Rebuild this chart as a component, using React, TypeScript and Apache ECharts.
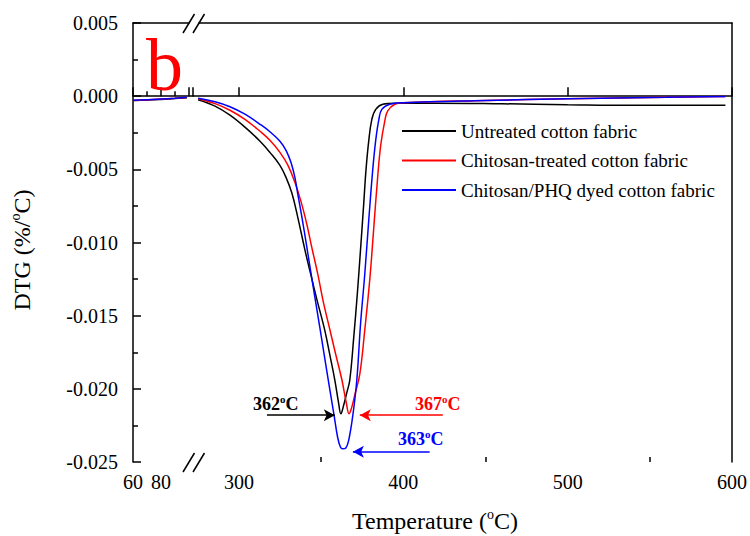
import React, { useEffect, useRef } from 'react';
import * as echarts from 'echarts';

const seriesNames = [
  'Untreated cotton fabric',
  'Chitosan-treated cotton fabric',
  'Chitosan/PHQ dyed cotton fabric',
];
const seriesColors = ['#000000', '#ff0000', '#0000ff'];

// left (low temperature) segment
const leftTemps = [60, 70, 80, 90, 98.5];
const leftBlack = [-0.0003, -0.00027, -0.00022, -0.00016, -0.0001];
const leftRed = [-0.00029, -0.00026, -0.00021, -0.00015, -0.00009];
const leftBlue = [-0.00028, -0.00025, -0.0002, -0.00014, -0.00008];

// right (high temperature) segment
const blackT = [275.1, 285.4, 294.5, 303.6, 312.8, 318.8, 324.9, 328.6, 332.2, 335.8, 340.1, 343.7, 347.4, 352.2, 355.3, 358.3, 360.5, 362, 363.5, 365.5, 367.4, 369.8, 372, 374, 375.8, 377.3, 379, 380.8, 383.2, 387.5, 395, 420, 460, 500, 540, 596];
const blackV = [-0.00024, -0.00068, -0.0013, -0.00212, -0.00308, -0.00384, -0.00473, -0.00555, -0.00664, -0.0083, -0.0105, -0.0122, -0.0139, -0.016, -0.0177, -0.0194, -0.0209, -0.0217, -0.0212, -0.0203, -0.0194, -0.0165, -0.0135, -0.0104, -0.0075, -0.005, -0.003, -0.0016, -0.0009, -0.00055, -0.00048, -0.00048, -0.00052, -0.00058, -0.00062, -0.00062];

const redT = [275.1, 285.4, 294.5, 303.6, 312.8, 318.8, 324.9, 329.8, 334, 337.7, 341.3, 344.3, 348, 351, 355.3, 358.9, 362.6, 365.2, 367, 368.5, 370.5, 373.5, 376.5, 379.6, 382, 384.4, 386.3, 388.7, 390.5, 394.8, 400, 450, 500, 560, 596];
const redV = [-0.00017, -0.00051, -0.00096, -0.00158, -0.0024, -0.00301, -0.00384, -0.00473, -0.00589, -0.00719, -0.00877, -0.01034, -0.01219, -0.0139, -0.01596, -0.01767, -0.01938, -0.0209, -0.0217, -0.0213, -0.0204, -0.019, -0.016, -0.0125, -0.009, -0.0055, -0.0033, -0.0017, -0.001, -0.00055, -0.00045, -0.0003, -0.00018, -0.00008, -0.00003];

const blueT = [275.1, 285.4, 294.5, 303.6, 312.8, 318.8, 324.9, 328.6, 331.6, 334, 335.8, 338.3, 341.3, 346.2, 349.2, 354.1, 357.7, 360.1, 361.7, 363, 365, 366.8, 369.3, 371.7, 374, 376.5, 379, 381.4, 383.2, 385.1, 386.9, 391.7, 400, 450, 500, 560, 596];
const blueV = [-0.00014, -0.00038, -0.00072, -0.00123, -0.00192, -0.00243, -0.00308, -0.0037, -0.00452, -0.00555, -0.00671, -0.00829, -0.01034, -0.01377, -0.01582, -0.01925, -0.02171, -0.02336, -0.02397, -0.0241, -0.02404, -0.02349, -0.02178, -0.01938, -0.0155, -0.0122, -0.0084, -0.005, -0.003, -0.0016, -0.0009, -0.00055, -0.00045, -0.0003, -0.00018, -0.00008, -0.00002];

// peak annotations
const peakLabels = ['362', '367', '363'];
const arrowFrom = [317, 424, 416];
const arrowTo = [358.3, 373.5, 369.3];
const arrowV = [-0.0218, -0.0218, -0.0243];

const xTicksMajor = [300, 400, 500, 600];
const xTicksMinor = [350, 450, 550];

const FONT = 'Liberation Serif';

const zip = (a: number[], b: number[]) => a.map((v, i) => [v, b[i]]);

export default function App() {
  const ref = useRef<HTMLDivElement>(null);
  useEffect(() => {
    if (!ref.current) return;
    const chart = echarts.init(ref.current, null, { renderer: 'svg' });
    const leftData = [leftBlack, leftRed, leftBlue];
    const rightData = [zip(blackT, blackV), zip(redT, redV), zip(blueT, blueV)];

    const lineBase = {
      type: 'line' as const,
      showSymbol: false,
      symbol: 'none',
      smooth: 0.4,
      silent: true,
    };

    const series: any[] = [];
    seriesNames.forEach((name, i) => {
      series.push({
        ...lineBase,
        name,
        xAxisIndex: 0,
        yAxisIndex: 0,
        data: zip(leftTemps, leftData[i]),
        lineStyle: { color: seriesColors[i], width: 1.5 },
        itemStyle: { color: seriesColors[i] },
      });
    });
    seriesNames.forEach((name, i) => {
      series.push({
        ...lineBase,
        name,
        xAxisIndex: 1,
        yAxisIndex: 1,
        data: rightData[i],
        lineStyle: { color: seriesColors[i], width: 1.5 },
        itemStyle: { color: seriesColors[i] },
        markLine: {
          silent: true,
          symbol: ['none', 'arrow'],
          symbolSize: [9, 11],
          label: { show: false },
          lineStyle: { color: seriesColors[i], width: 1.5, type: 'solid' },
          data: [[{ coord: [arrowFrom[i], arrowV[i]] }, { coord: [arrowTo[i], arrowV[i]] }]],
        },
      });
    });

    const axisLabelStyle = { color: '#000', fontFamily: FONT, fontSize: 20 };
    const lineStyle = { color: '#000', width: 1.5 };

    const supText = (num: string, color: string) => ({
      text: `{a|${num}}{b|o}{a|C}`,
      fill: color,
      rich: {
        a: { fontSize: 18, fontWeight: 'bold', fontFamily: FONT, fill: color, lineHeight: 21 },
        b: { fontSize: 11, fontWeight: 'bold', fontFamily: FONT, fill: color, lineHeight: 12, verticalAlign: 'top' },
      },
    });

    const breakMarks = (y: number) => [
      { type: 'rect', z: 100, shape: { x: 189.5, y: y - 3, width: 9, height: 6 }, style: { fill: '#fff' } },
      { type: 'line', z: 101, shape: { x1: 183, y1: y + 10, x2: 194.5, y2: y - 9 }, style: { stroke: '#000', lineWidth: 1.5 } },
      { type: 'line', z: 101, shape: { x1: 193, y1: y + 10, x2: 204.5, y2: y - 9 }, style: { stroke: '#000', lineWidth: 1.5 } },
    ];

    const option: any = {
      animation: false,
      backgroundColor: '#fff',
      grid: [
        { left: 133, top: 23, width: 60, height: 439 },
        { left: 193, top: 23, width: 540, height: 439 },
      ],
      legend: {
        data: seriesNames,
        orient: 'vertical',
        left: 397,
        top: 115,
        icon: 'rect',
        itemWidth: 54,
        itemHeight: 2,
        itemGap: 7.5,
        selectedMode: false,
        textStyle: { color: '#000', fontFamily: FONT, fontSize: 19, lineHeight: 22 },
      },
      xAxis: [
        {
          type: 'value', gridIndex: 0, position: 'bottom',
          min: 60, max: 60 + 60 / 1.4, interval: 20,
          axisLine: { show: true, lineStyle },
          axisTick: { show: true, inside: true, length: 9, lineStyle },
          minorTick: { show: true, splitNumber: 2, length: 5, lineStyle },
          axisLabel: { ...axisLabelStyle, margin: 10, formatter: (v: number) => (v === 60 || v === 80 ? String(v) : ''), showMaxLabel: false },
          splitLine: { show: false },
        },
        {
          type: 'value', gridIndex: 1, position: 'bottom',
          min: 272, max: 600,
          axisLine: { show: true, lineStyle },
          axisTick: { show: true, inside: true, length: 9, lineStyle, customValues: xTicksMajor },
          axisLabel: { ...axisLabelStyle, margin: 10, customValues: xTicksMajor, showMinLabel: true, showMaxLabel: true },
          splitLine: { show: false },
        },
        {
          type: 'value', gridIndex: 1, position: 'bottom',
          min: 272, max: 600,
          axisLine: { show: false },
          axisTick: { show: true, inside: true, length: 5, lineStyle, customValues: xTicksMinor },
          axisLabel: { show: false },
          splitLine: { show: false },
        },
        {
          type: 'value', gridIndex: 0, position: 'top', min: 60, max: 60 + 60 / 1.4,
          axisLine: { show: true, lineStyle }, axisTick: { show: false }, axisLabel: { show: false }, splitLine: { show: false },
        },
        {
          type: 'value', gridIndex: 1, position: 'top', min: 272, max: 600,
          axisLine: { show: true, lineStyle }, axisTick: { show: false }, axisLabel: { show: false }, splitLine: { show: false },
        },
      ],
      yAxis: [
        {
          type: 'value', gridIndex: 0, position: 'left',
          min: -0.025, max: 0.005, interval: 0.005,
          axisLine: { show: true, lineStyle },
          axisTick: { show: true, inside: true, length: 8, lineStyle },
          minorTick: { show: true, splitNumber: 2, length: 5, lineStyle },
          axisLabel: { ...axisLabelStyle, margin: 15, formatter: (v: number) => v.toFixed(3) },
          splitLine: { show: false },
        },
        {
          type: 'value', gridIndex: 1, position: 'right',
          min: -0.025, max: 0.005, interval: 0.005,
          axisLine: { show: true, lineStyle },
          axisTick: { show: false },
          axisLabel: { show: false },
          splitLine: { show: false },
        },
      ],
      series,
      graphic: [
        {
          type: 'text', z: 50, x: 146, y: 28,
          style: { text: 'b', fill: '#ff0000', fontFamily: FONT, fontSize: 74 },
        },
        {
          type: 'text', z: 50, x: 435, y: 521,
          style: {
            text: '{a|Temperature (}{b|o}{a|C)}',
            fill: '#000', align: 'center', verticalAlign: 'middle',
            rich: {
              a: { fontSize: 24, fontFamily: FONT, fill: '#000', lineHeight: 27 },
              b: { fontSize: 14, fontFamily: FONT, fill: '#000', lineHeight: 15, verticalAlign: 'top' },
            },
          },
        },
        {
          type: 'text', z: 50, x: 22, y: 250, rotation: Math.PI / 2,
          style: {
            text: '{a|DTG (%/}{b|o}{a|C)}',
            fill: '#000', align: 'center', verticalAlign: 'middle',
            rich: {
              a: { fontSize: 24, fontFamily: FONT, fill: '#000', lineHeight: 27 },
              b: { fontSize: 14, fontFamily: FONT, fill: '#000', lineHeight: 15, verticalAlign: 'top' },
            },
          },
        },
        { type: 'text', z: 50, x: 253, y: 393, style: supText(peakLabels[0], seriesColors[0]) },
        { type: 'text', z: 50, x: 415, y: 393, style: supText(peakLabels[1], seriesColors[1]) },
        { type: 'text', z: 50, x: 398, y: 428, style: supText(peakLabels[2], seriesColors[2]) },
        ...breakMarks(462),
        ...breakMarks(23),
      ],
    };
    chart.setOption(option);
    return () => chart.dispose();
  }, []);
  return <div ref={ref} style={{ position: 'fixed', left: 0, top: 0, width: 750, height: 536 }} />;
}
